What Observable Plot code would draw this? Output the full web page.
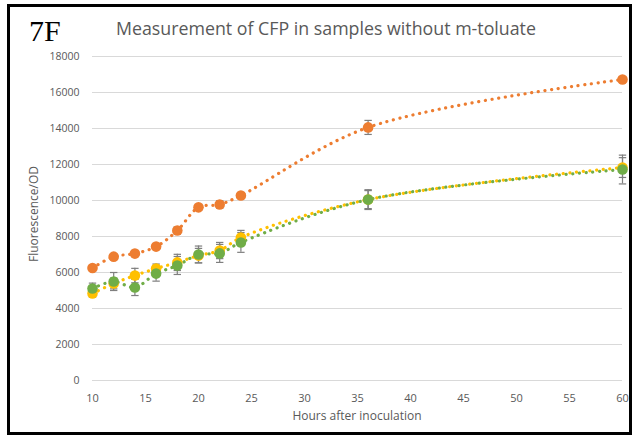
<!DOCTYPE html>
<html>
<head>
<meta charset="utf-8">
<script src="https://cdn.jsdelivr.net/npm/d3@7"></script>
<script src="https://cdn.jsdelivr.net/npm/@observablehq/plot@0.6"></script>
<style>
  html, body { margin: 0; padding: 0; background: #fff; }
  #wrap { position: relative; width: 636px; height: 439px; overflow: hidden; font-family: "Open Sans", sans-serif; }
  #frame { position: absolute; left: 7px; top: 4px; width: 619px; height: 425px; border: 3px solid #000; box-sizing: content-box; pointer-events: none; }
  #tag { position: absolute; left: 29px; top: 19px; font-family: "Liberation Serif", "DejaVu Serif", serif; font-size: 30px; color: #000; line-height: 24px; height: 24px; }
  #title { position: absolute; left: 116px; top: 20px; font-size: 17.8px; color: #595959; line-height: 1; white-space: nowrap; }
  #xlab { position: absolute; left: 357px; top: 410px; transform: translateX(-50%); font-size: 12px; color: #595959; white-space: nowrap; line-height: 1; }
  #ylab { position: absolute; left: 34px; top: 214px; transform: translate(-50%, -50%) rotate(-90deg); font-size: 12px; color: #595959; white-space: nowrap; line-height: 1; }
  svg { position: absolute; left: 0; top: 0; }
</style>
</head>
<body>
<div id="wrap">
  <div id="chart"></div>
  <div id="tag">7F</div>
  <div id="title">Measurement of CFP in samples without m-toluate</div>
  <div id="xlab">Hours after inoculation</div>
  <div id="ylab">Fluorescence/OD</div>
  <div id="frame"></div>
</div>
<script>
const hours = [10, 12, 14, 16, 18, 20, 22, 24, 36, 60];
const seriesNames = ["orange", "yellow", "green"];
const seriesColors = ["#ED7D31", "#FFC000", "#70AD47"];
const orangeValues = [6250, 6880, 7050, 7440, 8330, 9620, 9780, 10280, 14060, 16720];
const yellowValues = [4830, 5390, 5830, 6220, 6560, 6940, 7220, 7940, 10050, 11830];
const greenValues  = [5110, 5500, 5170, 5940, 6390, 7000, 7060, 7670, 10050, 11720];
const orangeErrors = [100, 150, 100, 150, 200, 150, 200, 150, 390, 150];
const yellowErrors = [200, 300, 400, 250, 450, 400, 450, 400, 500, 550];
const greenErrors  = [300, 500, 450, 420, 500, 470, 500, 550, 550, 800];
const yTicks = [0, 2000, 4000, 6000, 8000, 10000, 12000, 14000, 16000, 18000];
const xTicks = [10, 15, 20, 25, 30, 35, 40, 45, 50, 55, 60];

const valuesBySeries = [orangeValues, yellowValues, greenValues];
const errorsBySeries = [orangeErrors, yellowErrors, greenErrors];
const data = [];
seriesNames.forEach((s, i) => {
  hours.forEach((h, j) => {
    data.push({series: s, hour: h, value: valuesBySeries[i][j], err: errorsBySeries[i][j]});
  });
});

// horizontal cap symbol for error bars
const capSymbol = { draw(context, size) { const w = 3.7; context.moveTo(-w, 0); context.lineTo(w, 0); } };

const plotMarks = [
  Plot.ruleY(yTicks, {stroke: "#d9d9d9", strokeWidth: 1}),
  Plot.axisY({ticks: yTicks, tickSize: 0, tickPadding: 13, tickFormat: d => String(d), fontSize: 10.5, fill: "#595959", label: null}),
  Plot.axisX({ticks: xTicks, tickSize: 0, tickPadding: 14, tickFormat: d => String(d), fontSize: 11, fill: "#595959", label: null}),
  Plot.ruleX(data, {x: "hour", y1: d => d.value - d.err, y2: d => d.value + d.err, stroke: "#7f7f7f", strokeWidth: 1.2}),
  Plot.dot(data, {x: "hour", y: d => d.value - d.err, symbol: capSymbol, r: 3.7, stroke: "#7f7f7f", strokeWidth: 1.2, fill: "none"}),
  Plot.dot(data, {x: "hour", y: d => d.value + d.err, symbol: capSymbol, r: 3.7, stroke: "#7f7f7f", strokeWidth: 1.2, fill: "none"}),
];
seriesNames.forEach((s, i) => {
  const sd = data.filter(d => d.series === s);
  plotMarks.push(
    Plot.line(sd, {x: "hour", y: "value", stroke: seriesColors[i], strokeWidth: 3.2, strokeDasharray: "0.1,6.6", strokeLinecap: "round", curve: "catmull-rom"})
  );
});
seriesNames.forEach((s, i) => {
  const sd = data.filter(d => d.series === s);
  plotMarks.push(Plot.dot(sd, {x: "hour", y: "value", r: 5.3, fill: seriesColors[i], stroke: "none"}));
});

const chart = Plot.plot({
  width: 636,
  height: 439,
  marginLeft: 92,
  marginRight: 14,
  marginTop: 56,
  marginBottom: 59,
  style: {background: "transparent", fontFamily: "Open Sans, sans-serif"},
  x: {domain: [10, 60]},
  y: {domain: [0, 18000]},
  marks: plotMarks
});
document.getElementById("chart").appendChild(chart);
</script>
</body>
</html>
